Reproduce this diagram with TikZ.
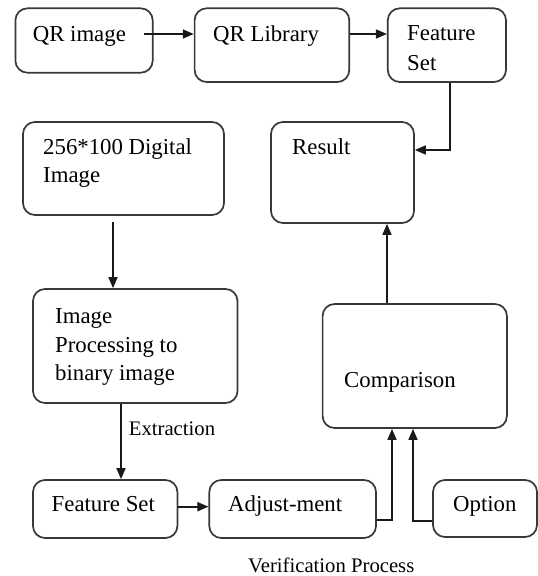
\documentclass[tikz,border=0pt]{standalone}
\usepackage{fontspec}
\setmainfont{Liberation Serif}
\usetikzlibrary{arrows.meta}
\begin{document}
\begin{tikzpicture}[x=1pt,y=-1pt,
  box/.style={draw=black!78,line width=1.7pt,rounded corners=12pt,inner sep=0pt,fill=none},
  txt/.style={anchor=base west,inner sep=0pt,font=\fontsize{22.8}{29}\selectfont,text=black},
  small/.style={anchor=base west,inner sep=0pt,font=\fontsize{20.7}{25}\selectfont,text=black},
  arr/.style={line width=1.6pt,draw=black!90,-{Triangle[length=11pt,width=9pt]}}]
\useasboundingbox (0,0) rectangle (538,576);
% boxes
\node[box,minimum width=137.3pt,minimum height=64.4pt] (qr) at (84.05,40.5) {};
\node[box,minimum width=154.7pt,minimum height=73.7pt] (lib) at (271.95,45.15) {};
\node[box,minimum width=118.2pt,minimum height=73.7pt] (fs1) at (446.9,45.15) {};
\node[box,minimum width=143pt,minimum height=101pt] (result) at (342.5,172.5) {};
\node[box,minimum width=201pt,minimum height=93pt] (dig) at (123.5,168.5) {};
\node[box,minimum width=204.5pt,minimum height=114pt] (proc) at (135.25,346) {};
\node[box,minimum width=144.4pt,minimum height=58pt] (fs2) at (105.2,509) {};
\node[box,minimum width=166.7pt,minimum height=58pt] (adj) at (292.65,509) {};
\node[box,minimum width=184.3pt,minimum height=124pt] (comp) at (414.75,366) {};
\node[box,minimum width=104pt,minimum height=57pt] (opt) at (485,508.5) {};
% texts
\node[txt] (tqr) at (32.6,41) {QR image};
\node[txt] (tlib) at (213,41) {QR Library};
\node[txt] (tfs1a) at (407,40) {Feature};
\node[txt] (tfs1b) at (407,70) {Set};
\node[txt] (tres) at (292,154) {Result};
\node[txt] (tdiga) at (43,154) {256*100 Digital};
\node[txt] (tdigb) at (43,182) {Image};
\node[txt] (tproca) at (55,323) {Image};
\node[txt] (tprocb) at (55,352) {Processing to};
\node[txt] (tprocc) at (55,380) {binary image};
\node[txt] (tfs2) at (51.5,511) {Feature Set};
\node[txt] (tadj) at (228,511) {Adjust-ment};
\node[txt] (tcomp) at (344,387) {Comparison};
\node[txt] (topt) at (453,511) {Option};
\node[small] (text) at (128.7,435) {Extraction};
\node[small] (tver) at (248,572) {Verification Process};
% connectors
\coordinate (a1) at (144,34);
\draw[arr] (a1) -- (a1 -| lib.west);
\draw[arr] (lib.east |- a1) -- (fs1.west |- a1);
\coordinate (f1) at (450,0);
\coordinate (r1) at (0,150);
\draw[arr] (fs1.south -| f1) |- (result.east |- r1);
\coordinate (c1) at (387,0);
\draw[arr] (comp.north -| c1) -- (result.south -| c1);
\coordinate (d1) at (113,222);
\draw[arr] (d1) -- (d1 |- proc.north);
\coordinate (e1) at (121,0);
\draw[arr] (proc.south -| e1) -- (fs2.north -| e1);
\coordinate (g1) at (0,506.7);
\draw[arr] (fs2.east |- g1) -- (adj.west |- g1);
\coordinate (h1) at (392,520);
\draw[arr] (adj.east |- h1) -| (comp.south -| h1);
\coordinate (h2) at (413,521);
\draw[arr] (opt.west |- h2) -| (comp.south -| h2);
\end{tikzpicture}
\end{document}
